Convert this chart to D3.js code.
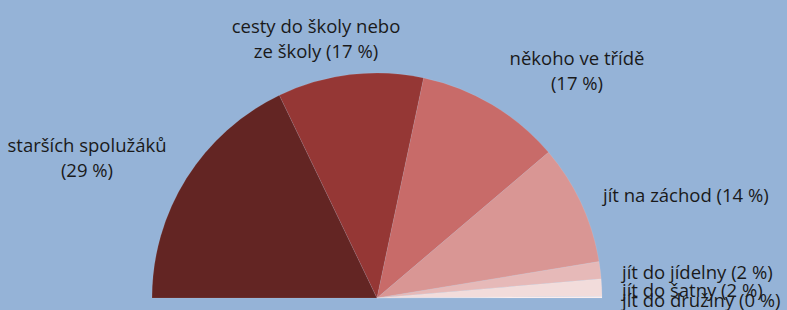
<!DOCTYPE html>
<html>
<head>
<meta charset="utf-8">
<script src="https://cdn.jsdelivr.net/npm/d3@7"></script>
<style>
  html, body { margin: 0; padding: 0; background: #95B3D7; }
  svg { display: block; }
</style>
</head>
<body>
<div id="chart"></div>
<script>
// categories and shares (percent)
const categories = [
  'starších spolužáků',
  'cesty do školy nebo ze školy',
  'někoho ve třídě',
  'jít na záchod',
  'jít do jídelny',
  'jít do šatny',
  'jít do družiny'
];
const shares = [29, 17, 17, 14, 2, 2, 0.2];
const colors = ['#632523', '#953735', '#C86B69', '#D99694', '#E6B9B8', '#F2DCDB', '#FBEEEE'];

// label layout: line breaks, anchor point and alignment
const labelLayout = [
  { lines: ['starších spolužáků', '(29 %)'], x: 87, y: 144, anchor: 'middle' },
  { lines: ['cesty do školy nebo', 'ze školy (17 %)'], x: 316, y: 25, anchor: 'middle' },
  { lines: ['někoho ve třídě', '(17 %)'], x: 577, y: 57, anchor: 'middle' },
  { lines: ['jít na záchod (14 %)'], x: 603, y: 194, anchor: 'start' },
  { lines: ['jít do jídelny (2 %)'], x: 622, y: 271, anchor: 'start' },
  { lines: ['jít do šatny (2 %)'], x: 622, y: 289, anchor: 'start' },
  { lines: ['jít do družiny (0 %)'], x: 622, y: 299, anchor: 'start' }
];

const outerWidth = 787;
const outerHeight = 310;
const cx = 377;
const cy = 298;
const radius = 225;

const svg = d3.select('#chart')
  .append('svg')
  .attr('width', outerWidth)
  .attr('height', outerHeight);

svg.append('rect')
  .attr('width', outerWidth)
  .attr('height', outerHeight)
  .attr('fill', '#95B3D7');

const data = categories.map((name, i) => ({ name, value: shares[i], color: colors[i] }));

const pie = d3.pie()
  .value(d => d.value)
  .sort(null)
  .startAngle(-Math.PI / 2)
  .endAngle(Math.PI / 2);

const arc = d3.arc()
  .innerRadius(0)
  .outerRadius(radius);

const g = svg.append('g')
  .attr('transform', `translate(${cx},${cy})`);

g.selectAll('path')
  .data(pie(data))
  .enter()
  .append('path')
    .attr('d', arc)
    .attr('fill', d => d.data.color)
    .attr('stroke', '#ffffff')
    .attr('stroke-opacity', 0.15)
    .attr('stroke-width', 0.6);

// labels (overlapping at bottom right, as in the original)
const labels = svg.append('g')
  .attr('font-family', 'Open Sans, sans-serif')
  .attr('font-size', '18.5px')
  .attr('fill', '#1a1a1a');

labelLayout.forEach(lay => {
  const t = labels.append('text')
    .attr('text-anchor', lay.anchor)
    .attr('dominant-baseline', 'central');
  lay.lines.forEach((line, j) => {
    t.append('tspan')
      .attr('x', lay.x)
      .attr('y', lay.y + j * 24.5)
      .text(line);
  });
});
</script>
</body>
</html>
